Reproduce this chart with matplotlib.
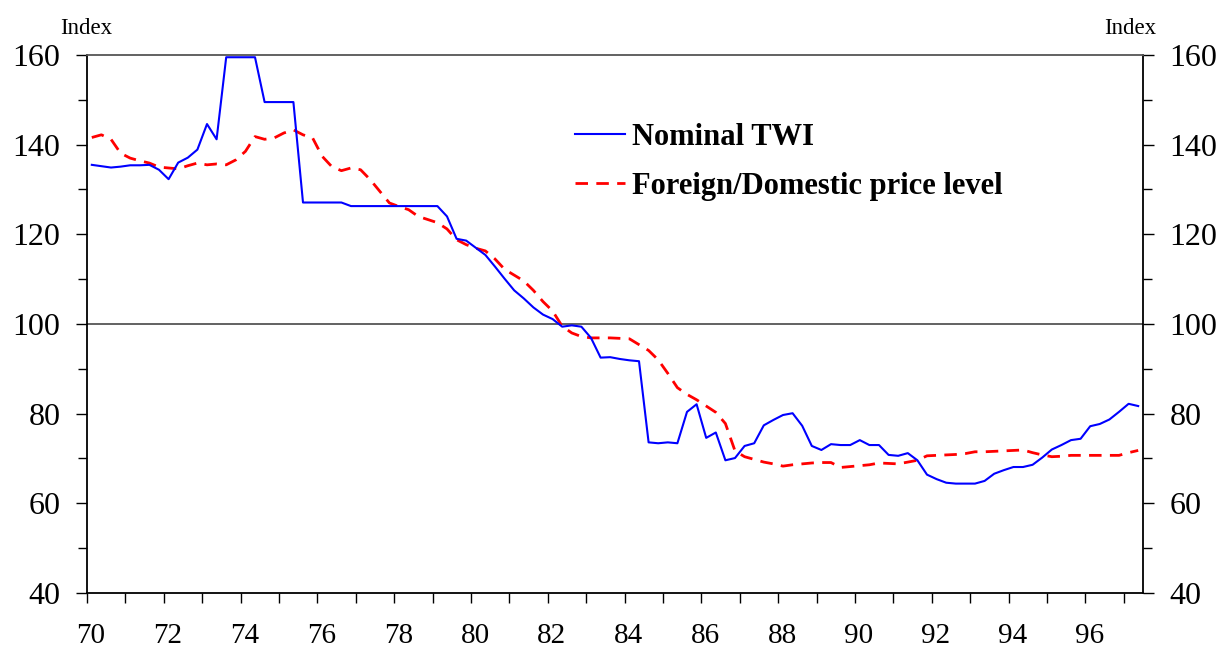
import numpy as np
import matplotlib
matplotlib.use("Agg")
import matplotlib.pyplot as plt
import matplotlib.transforms as mtransforms
from matplotlib.ticker import MultipleLocator

# --------------------------
# Data (quarterly, 1970Q1 .. 1997Q2, index)
# --------------------------
n_quarters = 110
quarter_pos = 70.125 + np.arange(n_quarters) * 0.25

nominal_twi = [
    135.5, 135.2, 134.9, 135.1, 135.4, 135.4, 135.5, 134.4, 132.3, 136.0,
    137.1, 138.9, 144.6, 141.2, 159.5, 159.5, 159.5, 159.5, 149.5, 149.5,
    149.5, 149.5, 127.1, 127.1, 127.1, 127.1, 127.1, 126.3, 126.3, 126.3,
    126.3, 126.3, 126.3, 126.3, 126.3, 126.3, 126.3, 124.0, 119.0, 118.6,
    117.0, 115.4, 112.8, 110.1, 107.5, 105.7, 103.7, 102.1, 101.1, 99.4,
    99.7, 99.4, 96.9, 92.5, 92.6, 92.2, 91.9, 91.7, 73.6, 73.4,
    73.6, 73.4, 80.4, 82.1, 74.6, 75.8, 69.6, 70.1, 72.8, 73.4,
    77.4, 78.6, 79.7, 80.1, 77.3, 72.8, 71.9, 73.2, 73.0, 73.0,
    74.1, 73.0, 73.0, 70.8, 70.6, 71.2, 69.6, 66.4, 65.4, 64.6,
    64.4, 64.4, 64.4, 65.0, 66.6, 67.4, 68.1, 68.1, 68.6, 70.2,
    72.0, 73.0, 74.1, 74.4, 77.2, 77.7, 78.7, 80.4, 82.2, 81.7,
]

price_ratio = [
    141.6, 142.2, 141.2, 138.1, 137.0, 136.4, 135.9, 135.0, 134.8, 134.6,
    135.3, 135.9, 135.5, 135.7, 135.5, 136.6, 138.5, 141.8, 141.2, 141.5,
    142.6, 143.3, 142.2, 141.5, 137.4, 135.1, 134.2, 134.8, 134.4, 132.2,
    129.6, 127.0, 126.2, 125.5, 124.0, 123.3, 122.6, 121.2, 118.8, 117.7,
    116.9, 116.3, 114.5, 112.2, 110.9, 109.6, 107.5, 105.0, 102.9, 99.5,
    98.0, 97.2, 96.9, 96.9, 96.9, 96.8, 96.7, 95.4, 94.1, 92.0,
    89.0, 85.8, 84.3, 83.1, 81.7, 80.3, 77.8, 71.7, 70.4, 69.8,
    69.2, 68.8, 68.3, 68.6, 68.8, 69.0, 69.1, 69.1, 68.0, 68.2,
    68.4, 68.6, 69.0, 68.9, 68.8, 69.2, 69.6, 70.6, 70.7, 70.8,
    70.9, 71.1, 71.5, 71.5, 71.6, 71.7, 71.8, 71.9, 71.3, 70.8,
    70.4, 70.5, 70.7, 70.7, 70.7, 70.7, 70.7, 70.7, 71.3, 71.8,
]

year_ticks = list(range(70, 97, 2))
year_labels = [str(y) for y in year_ticks]
index_ticks = list(range(40, 161, 20))

# --------------------------
# Figure
# --------------------------
plt.rcParams["font.family"] = ["Liberation Serif", "DejaVu Serif"]

fig = plt.figure(figsize=(12.21, 6.5), dpi=100)
ax = fig.add_axes([87 / 1221, 1 - 593 / 650, (1143 - 87) / 1221, (593 - 55) / 650])

ax.axhline(100, color="#555555", lw=1.3, zorder=1)

ax.plot(quarter_pos, nominal_twi, color="#0000ff", lw=1.5,
        label="Nominal TWI", zorder=3)
ax.plot(quarter_pos, price_ratio, color="#ff0000", lw=2.0,
        dashes=(4.5, 3.0), label="Foreign/Domestic price level", zorder=2)

ax.set_xlim(70, 97.5)
ax.set_ylim(40, 160)

ax.set_xticks(year_ticks)
ax.set_xticklabels(year_labels)
ax.xaxis.set_minor_locator(MultipleLocator(1))
ax.set_yticks(index_ticks)
ax.yaxis.set_minor_locator(MultipleLocator(10))

ax.tick_params(axis="x", which="both", direction="out", length=7.5,
               width=1.0, labelsize=21, pad=14)
ax.tick_params(axis="y", which="major", direction="out", length=8,
               width=1.0, labelsize=23, pad=11, right=True, labelright=True)
ax.tick_params(axis="y", which="minor", direction="out", length=6.5,
               width=1.0, right=True)

# shift year labels slightly right like the original
offset = mtransforms.ScaledTranslation(4 / 100, 0, fig.dpi_scale_trans)
for lbl in ax.get_xticklabels():
    lbl.set_transform(lbl.get_transform() + offset)

for side in ["left", "right", "bottom"]:
    ax.spines[side].set_color("black")
    ax.spines[side].set_linewidth(1.3)
ax.spines["top"].set_color("#555555")
ax.spines["top"].set_linewidth(1.3)

fig.text(86 / 1221, 1 - 28 / 650, "Index", fontsize=16.5, ha="center", va="center")
fig.text(1130 / 1221, 1 - 28 / 650, "Index", fontsize=16.5, ha="center", va="center")

leg = ax.legend(loc="upper left", bbox_to_anchor=(575 / 1221, 1 - 123 / 650),
                bbox_transform=fig.transFigure, frameon=False,
                prop={"size": 22, "weight": "bold"}, handlelength=1.65,
                handletextpad=0.22, labelspacing=0.65, borderpad=0,
                borderaxespad=0)

fig.savefig("out.png", dpi=100)
